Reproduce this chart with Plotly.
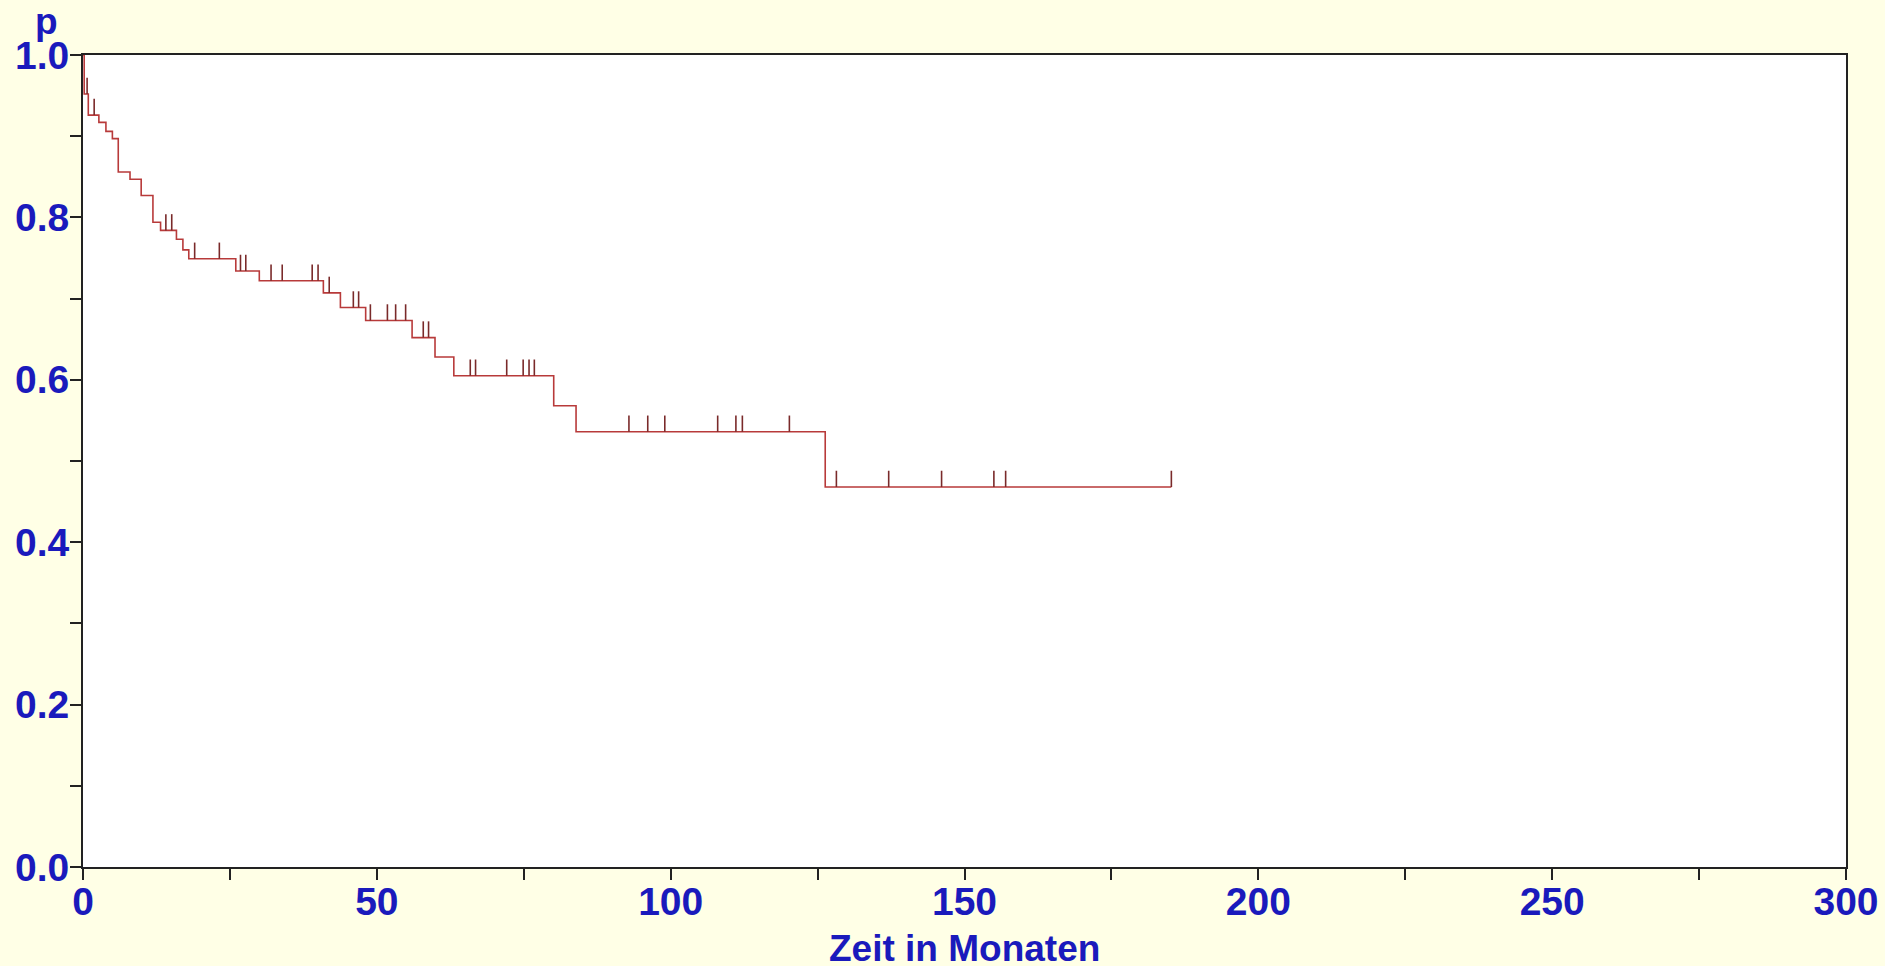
import numpy as np
import plotly.graph_objects as go

# Kaplan-Meier curve: times of drops and level after each drop
start_time = 0.0
start_level = 1.0
drop_times = [0.2, 0.9, 2.7, 3.9, 5.0, 6.0, 8.0, 9.9, 11.9, 13.2, 15.9, 17.0, 18.0,
              26.0, 30.0, 40.9, 43.8, 48.1, 56.0, 59.9, 63.1, 80.1, 83.9, 126.3]
drop_levels = [0.952, 0.926, 0.917, 0.906, 0.897, 0.856, 0.847, 0.827, 0.794, 0.784,
               0.773, 0.760, 0.749, 0.734, 0.722, 0.707, 0.689, 0.673, 0.652, 0.628,
               0.605, 0.568, 0.536, 0.468]
end_time = 185.2

# censored observations
censor_times = [0.7, 1.9, 14.1, 15.1, 19.0, 23.2, 26.8, 27.7, 32.0, 33.9, 39.0, 40.0,
                41.9, 46.0, 46.9, 48.9, 51.8, 53.2, 54.9, 57.9, 58.8, 65.9, 66.8, 72.1,
                74.9, 75.9, 76.8, 92.9, 96.1, 99.0, 108.0, 111.1, 112.2, 120.2, 128.2,
                137.1, 146.1, 155.0, 157.0, 185.2]

y_major = [0.0, 0.2, 0.4, 0.6, 0.8, 1.0]
x_major = [0, 50, 100, 150, 200, 250, 300]

TEXT = "#1a1abc"
LINE = "#b83a3a"
CENS = "#7a2a2a"
FONT = "Liberation Sans, Arial, sans-serif"
TICK_H = 0.02
TICK_FS = 39
TITLE_FS = 37

xs = [start_time] + drop_times + [end_time]
ys = [start_level] + drop_levels + [drop_levels[-1]]

# survival level at each censor time
all_t = np.array([start_time] + drop_times)
all_p = np.array([start_level] + drop_levels)
cx, cy = [], []
for t in censor_times:
    idx = np.searchsorted(all_t, t, side="right") - 1
    p = all_p[idx]
    cx += [t, t, None]
    cy += [p, p + TICK_H, None]

fig = go.Figure()
fig.add_trace(go.Scatter(x=xs, y=ys, mode="lines", line=dict(shape="hv", color=LINE, width=1.6),
                         hoverinfo="skip", showlegend=False))
fig.add_trace(go.Scatter(x=cx, y=cy, mode="lines", line=dict(color=CENS, width=1.6),
                         hoverinfo="skip", showlegend=False))

axis_common = dict(showgrid=False, zeroline=False, showline=True, linecolor="#222222",
                   linewidth=2, mirror=True, ticks="outside", ticklen=11, tickwidth=1.5,
                   tickcolor="#222222", automargin=False,
                   tickfont=dict(family=FONT, size=TICK_FS, color=TEXT, weight="bold"))

fig.update_xaxes(range=[0, 300], tickvals=x_major, ticktext=[str(v) for v in x_major],
                 ticklabelstandoff=-12,
                 minor=dict(dtick=25, ticks="outside", ticklen=11, tickwidth=1.5, tickcolor="#222222"),
                 **axis_common)
fig.update_yaxes(range=[0, 1.0], tickvals=y_major, ticktext=[f"{v:.1f}" for v in y_major],
                 ticklabelstandoff=-7,
                 minor=dict(dtick=0.1, ticks="outside", ticklen=11, tickwidth=1.5, tickcolor="#222222"),
                 **axis_common)

fig.add_annotation(text="p", xref="paper", yref="paper", x=0.0, y=1.041,
                   xanchor="right", yanchor="middle", xshift=-23, showarrow=False,
                   font=dict(family=FONT, size=TITLE_FS, color=TEXT, weight="bold"))
fig.add_annotation(text="Zeit in Monaten", xref="paper", yref="paper", x=0.5, y=-0.1,
                   xanchor="center", yanchor="middle", showarrow=False,
                   font=dict(family=FONT, size=TITLE_FS, color=TEXT, weight="bold"))

fig.update_layout(width=1885, height=966, paper_bgcolor="#ffffe6", plot_bgcolor="#ffffff",
                  margin=dict(l=82.5, r=39.3, t=55, b=99.3), showlegend=False)

fig.write_html("out.html", config={"displayModeBar": False},
               post_script="document.body.style.margin='0';document.body.style.overflow='hidden';")
